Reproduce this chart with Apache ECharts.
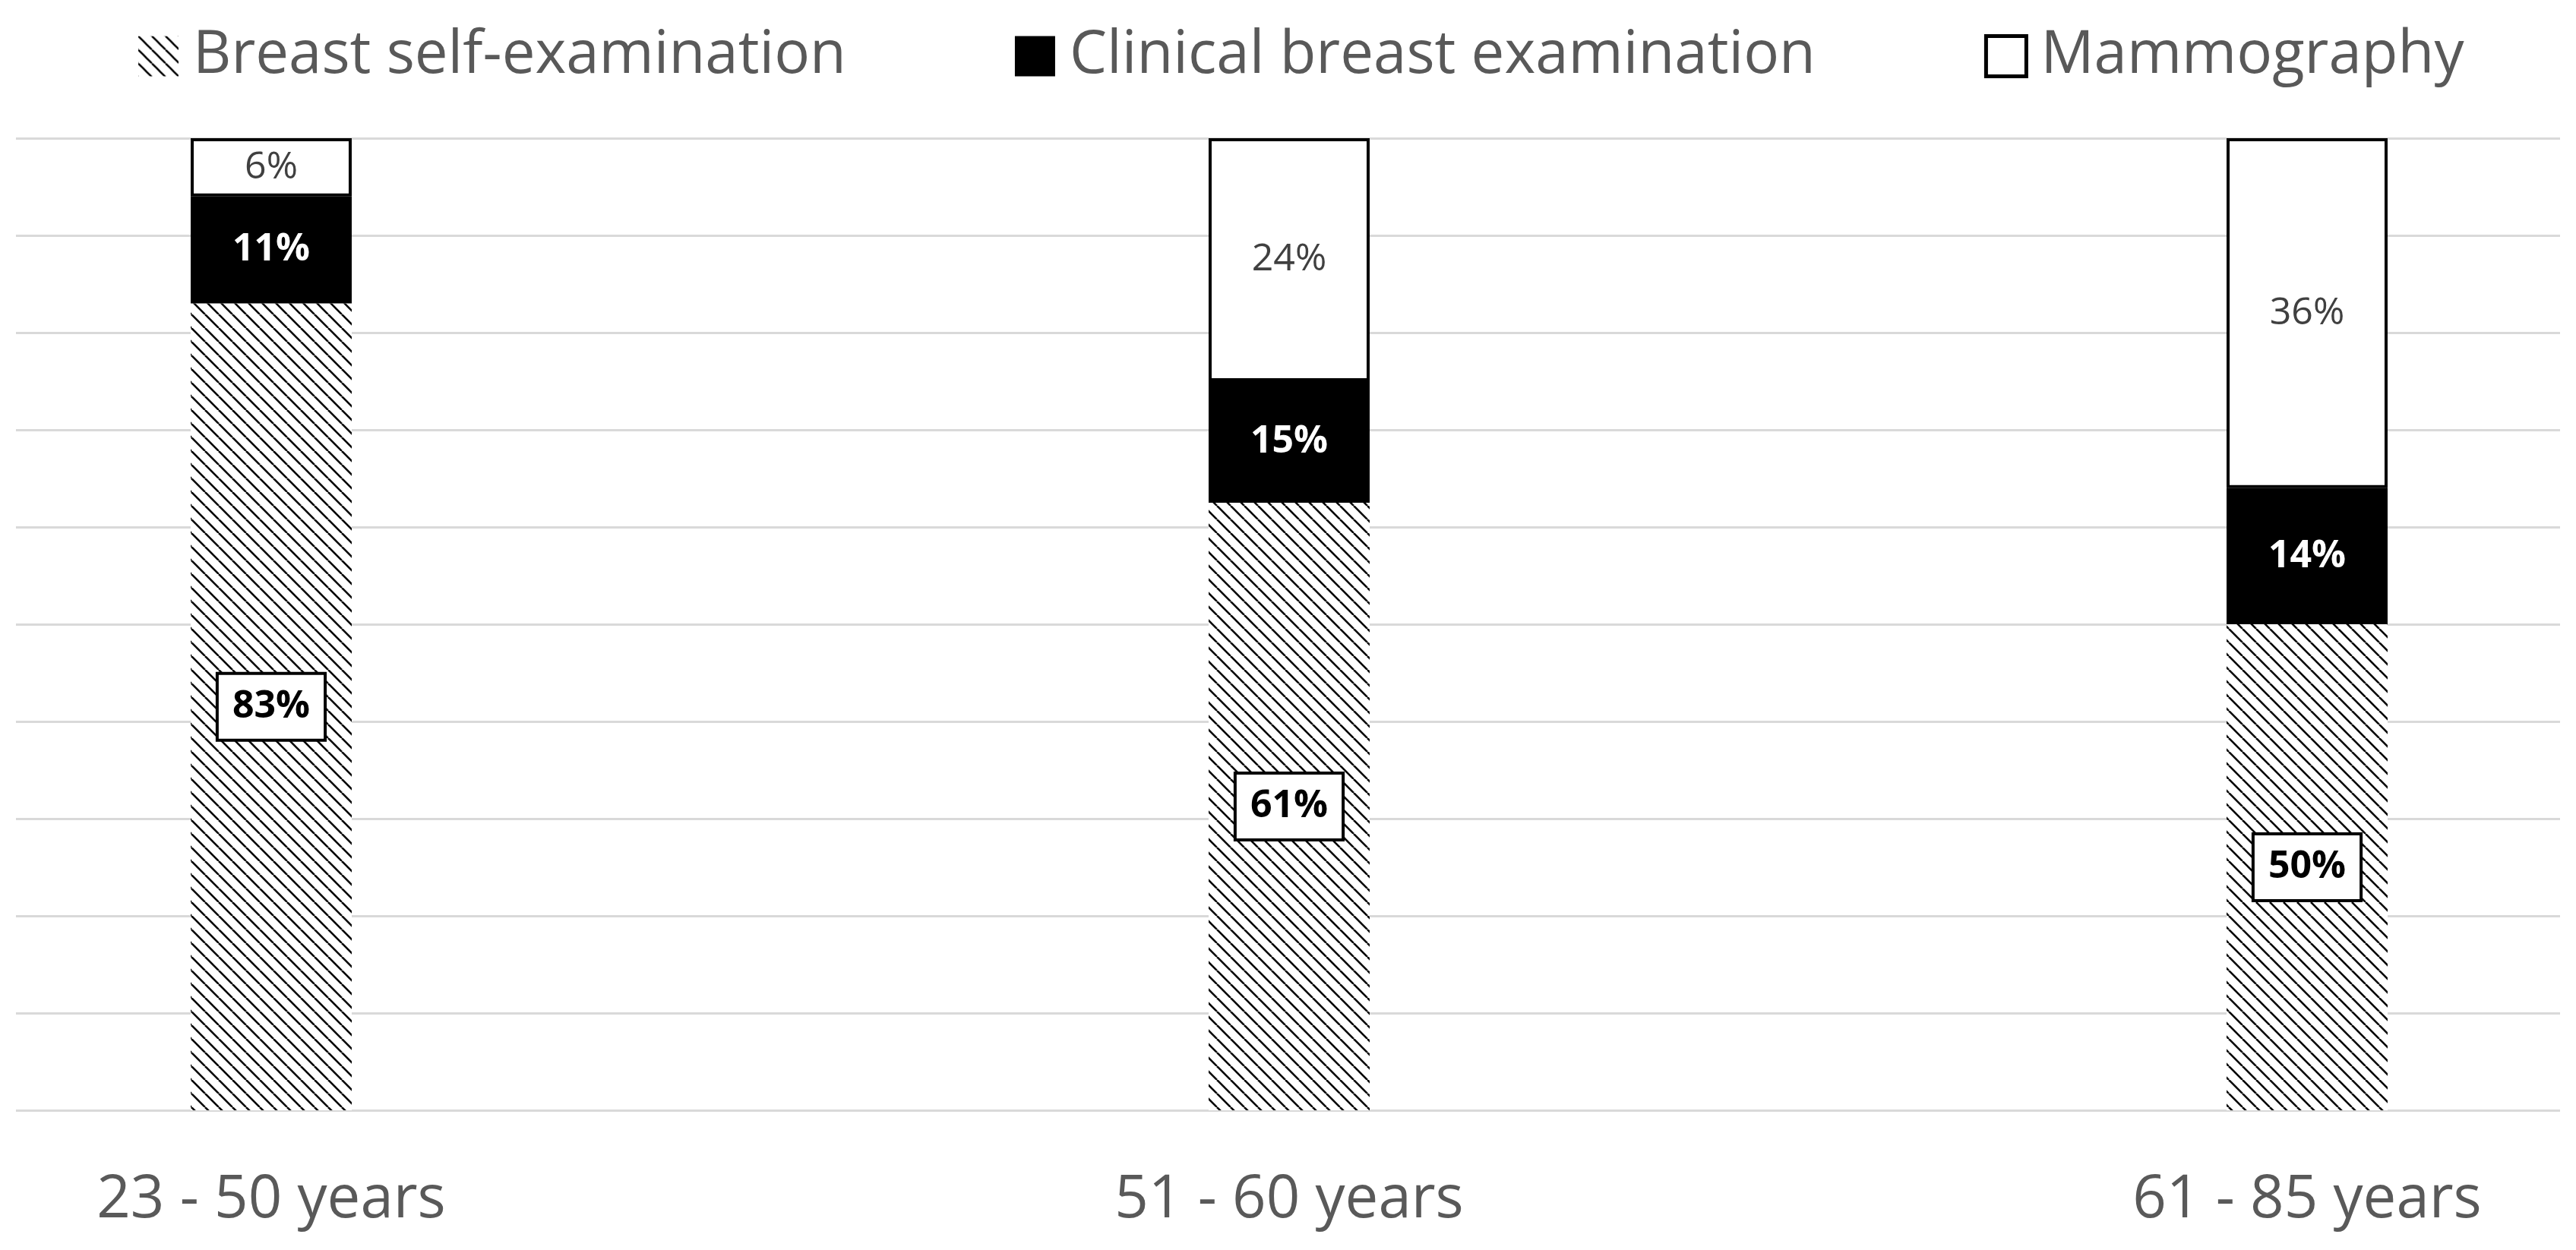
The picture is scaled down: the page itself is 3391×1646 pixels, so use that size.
<!DOCTYPE html>
<html><head><meta charset="utf-8">
<script src="https://cdn.jsdelivr.net/npm/echarts@6/dist/echarts.min.js"></script>
<style>html,body{margin:0;padding:0;background:#fff}#c{width:3391px;height:1646px}</style>
</head><body><div id="c"></div>
<script>
const categories = ['23 - 50 years', '51 - 60 years', '61 - 85 years'];
const seriesNames = ['Breast self-examination', 'Clinical breast examination', 'Mammography'];
// bar segment heights as drawn in the picture (share of 100%)
const selfExam = [0.83, 0.625, 0.50];
const clinicalExam = [0.11, 0.125, 0.14];
const mammography = [0.06, 0.25, 0.36];
// label texts printed on the bars
const selfExamLabels = ['83%', '61%', '50%'];
const clinicalExamLabels = ['11%', '15%', '14%'];
const mammographyLabels = ['6%', '24%', '36%'];

function hatch() {
  const s = 18, c = document.createElement('canvas');
  c.width = s; c.height = s;
  const g = c.getContext('2d');
  g.fillStyle = '#fff'; g.fillRect(0, 0, s, s);
  g.strokeStyle = '#000'; g.lineWidth = 2.6;
  for (const x0 of [-s, 0, s]) { g.beginPath(); g.moveTo(x0, 0); g.lineTo(x0 + s, s); g.stroke(); }
  return c;
}
const FONT = 'Open Sans';
const hatchFill = { image: hatch(), repeat: 'repeat' };
const chart = echarts.init(document.getElementById('c'));
chart.setOption({
  animation: false,
  backgroundColor: '#fff',
  legend: {
    left: 177, top: 30, itemWidth: 53, itemHeight: 53, itemGap: 222, icon: 'rect',
    data: [
      { name: seriesNames[0], itemStyle: { color: hatchFill, borderWidth: 0 } },
      { name: seriesNames[1], itemStyle: { color: '#000', borderWidth: 0 } },
      { name: seriesNames[2], itemStyle: { color: '#fff', borderColor: '#000', borderWidth: 5 } }
    ],
    textStyle: { fontFamily: FONT, fontSize: 78, color: '#595959', padding: [0, 0, 0, 14] }
  },
  grid: [
    { left: 21, right: 21, top: 182, bottom: 184, outerBoundsMode: 'none' },
    { left: 357, right: 354, top: 182, bottom: 184, outerBoundsMode: 'none' }
  ],
  xAxis: [
    { gridIndex: 0, type: 'category', data: categories, show: false },
    { gridIndex: 1, type: 'category', data: categories, boundaryGap: false,
      axisLine: { show: false }, axisTick: { show: false }, splitLine: { show: false },
      axisLabel: { fontFamily: FONT, fontSize: 78, color: '#595959', margin: 80, interval: 0 } }
  ],
  yAxis: [
    { gridIndex: 0, type: 'value', min: 0, max: 1, interval: 0.1,
      axisLabel: { show: false }, axisLine: { show: false }, axisTick: { show: false },
      splitLine: { show: true, lineStyle: { color: '#d9d9d9', width: 3 } } },
    { gridIndex: 1, type: 'value', min: 0, max: 1, interval: 0.1, show: false, splitLine: { show: false } }
  ],
  series: [
    { name: seriesNames[0], type: 'bar', xAxisIndex: 1, yAxisIndex: 1, stack: 'total', barWidth: 212,
      data: selfExam, itemStyle: { color: hatchFill },
      emphasis: { disabled: true },
      label: { show: true, position: 'inside', formatter: p => selfExamLabels[p.dataIndex], fontFamily: FONT, fontSize: 50, fontWeight: 'bold',
        color: '#000', backgroundColor: '#fff', borderColor: '#000', borderWidth: 4, padding: [17, 18] } },
    { name: seriesNames[1], type: 'bar', xAxisIndex: 1, yAxisIndex: 1, stack: 'total', barWidth: 212,
      data: clinicalExam, itemStyle: { color: '#000' }, emphasis: { disabled: true },
      label: { show: true, position: 'inside', formatter: p => clinicalExamLabels[p.dataIndex], fontFamily: FONT, fontSize: 50, fontWeight: 'bold', color: '#fff' } },
    { name: seriesNames[2], type: 'bar', xAxisIndex: 1, yAxisIndex: 1, stack: 'total', barWidth: 208,
      data: mammography, itemStyle: { color: '#fff', borderColor: '#000', borderWidth: 4 }, emphasis: { disabled: true },
      label: { show: true, position: 'inside', formatter: p => mammographyLabels[p.dataIndex], fontFamily: FONT, fontSize: 50, color: '#404040' } }
  ]
});
</script></body></html>
